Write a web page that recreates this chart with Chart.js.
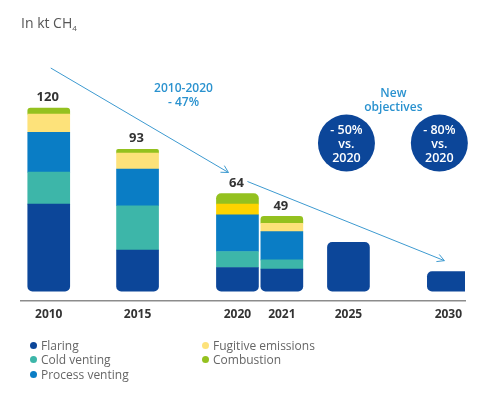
<!DOCTYPE html>
<html>
<head>
<meta charset="utf-8">
<script src="https://cdn.jsdelivr.net/npm/chart.js@4.4.1/dist/chart.umd.min.js"></script>
<style>
  html, body { margin: 0; padding: 0; background: #fff; }
  #wrap { position: relative; width: 490px; height: 396px; font-family: "Open Sans", sans-serif; }
  #title { position: absolute; left: 21px; top: 13px; font-size: 14px; color: #555; }
  #title sub { font-size: 8px; vertical-align: -3px; }
  #legend { position: absolute; left: 30px; top: 338px; display: grid; grid-template-columns: 172px 160px;
            grid-template-rows: repeat(3, 14.5px); grid-auto-flow: column; font-size: 12px; color: #666; }
  #legend span { display: flex; align-items: center; white-space: nowrap; }
  #legend i { display: inline-block; width: 7px; height: 7px; border-radius: 50%; margin-right: 4px; }
</style>
</head>
<body>
<div id="wrap">
  <canvas id="chart" width="490" height="396"></canvas>
  <div id="title">In kt CH<sub>4</sub></div>
  <div id="legend"></div>
</div>
<script>
// values in kt CH4
const years = ['2010', '2015', '2020', '2021', '2025', '2030'];
const flaring = [57, 27, 15.5, 14.5, 32, 12.8];
const coldVenting = [21, 29, 10.5, 6, null, null];
const processVenting = [26, 24, 24, 18.5, null, null];
const fugitive = [12, 10.5, 7, 5.5, null, null];
const combustion = [4, 2.5, 7, 4.5, null, null];
const shownTotals = ['120', '93', '64', '49', null, null];

// layout: the years are not evenly spaced, so put them on a finer category grid
const slotCount = 40;
const slotOf = [2, 10, 19, 23, 29, 38];

const labels = new Array(slotCount).fill('');
const colOfSlot = {};
slotOf.forEach((s, i) => { labels[s] = years[i]; colOfSlot[s] = i; });

function spread(values) {
  const out = new Array(slotCount).fill(null);
  slotOf.forEach((s, i) => { out[s] = values[i]; });
  return out;
}

const series = [
  { label: 'Flaring', values: flaring, color: '#0c4699' },
  { label: 'Cold venting', values: coldVenting, color: '#3db6a9' },
  { label: 'Process venting', values: processVenting, color: '#0a7dc5' },
  { label: 'Fugitive emissions', values: fugitive, color: '#fde27a' },
  { label: 'Combustion', values: combustion, color: '#94c11f' }
];

function topSeries(col) {
  let top = 0;
  series.forEach((s, i) => { if (s.values[col] != null) top = i; });
  return top;
}

const datasets = series.map((s, i) => ({
  label: s.label,
  data: spread(s.values),
  backgroundColor: s.label === 'Fugitive emissions'
    ? (ctx) => colOfSlot[ctx.dataIndex] === 2 ? '#fed300' : s.color
    : s.color,
  borderWidth: 0,
  borderSkipped: false,
  barThickness: 42,
  borderRadius: (ctx) => {
    const col = colOfSlot[ctx.dataIndex];
    if (col === undefined) return 0;
    const t = ctx.datasetIndex === topSeries(col) ? 5 : 0;
    const b = ctx.datasetIndex === 0 ? 5 : 0;
    return { topLeft: t, topRight: t, bottomLeft: b, bottomRight: b };
  }
}));

// legend, two columns
const legend = document.getElementById('legend');
series.forEach(s => {
  legend.innerHTML += `<span><i style="background:${s.color}"></i>${s.label}</span>`;
});

const blue = '#2a92cf';

const annotations = {
  id: 'annotations',
  afterDatasetsDraw(chart) {
    const { ctx, scales: { x, y }, chartArea } = chart;
    const px = (col) => x.getPixelForValue(slotOf[col]);
    const totals = years.map((_, c) => series.reduce((a, s) => a + (s.values[c] || 0), 0));
    ctx.save();

    // totals above bars
    ctx.fillStyle = '#333';
    ctx.font = 'bold 13px "Open Sans"';
    ctx.textAlign = 'center';
    ctx.textBaseline = 'middle';
    shownTotals.forEach((t, c) => {
      if (t) ctx.fillText(t, px(c) - 1, y.getPixelForValue(totals[c]) - 10.5);
    });

    // trend arrows
    function arrow(x1, y1, x2, y2) {
      ctx.beginPath();
      ctx.moveTo(x1, y1);
      ctx.lineTo(x2, y2);
      const a = Math.atan2(y2 - y1, x2 - x1);
      const h = 8;
      ctx.moveTo(x2 - h * Math.cos(a - 0.5), y2 - h * Math.sin(a - 0.5));
      ctx.lineTo(x2, y2);
      ctx.lineTo(x2 - h * Math.cos(a + 0.5), y2 - h * Math.sin(a + 0.5));
      ctx.stroke();
    }
    ctx.strokeStyle = '#3d9ad0';
    ctx.lineWidth = 1;
    arrow(px(0) + 2, y.getPixelForValue(totals[0]) - 40, px(2) - 9, y.getPixelForValue(totals[2]) - 21);
    arrow(px(2) + 10, y.getPixelForValue(totals[2]) - 12, px(5) - 4, y.getPixelForValue(totals[5]) - 11);

    // 2010-2020 note
    ctx.fillStyle = blue;
    ctx.font = '600 12px "Open Sans"';
    const mx = (px(1) + px(2)) / 2 - 4;
    ctx.fillText('2010-2020', mx, chartArea.top + 11.5);
    ctx.fillText('- 47%', mx, chartArea.top + 25.5);

    // new objectives
    const nx = (px(4) + px(5)) / 2 - 5;
    ctx.fillText('New', nx, chartArea.top + 16.5);
    ctx.fillText('objectives', nx, chartArea.top + 30.5);

    const goals = [['- 50%', 'vs.', '2020'], ['- 80%', 'vs.', '2020']];
    const shift = [-2, -9];
    [4, 5].forEach((c, k) => {
      const cx = px(c) + shift[k];
      const cy = chartArea.top + 65.5;
      ctx.fillStyle = '#0c4699';
      ctx.beginPath();
      ctx.arc(cx, cy, 28.5, 0, Math.PI * 2);
      ctx.fill();
      ctx.fillStyle = '#fff';
      ctx.font = '600 12.5px "Open Sans"';
      goals[k].forEach((line, j) => ctx.fillText(line, cx, cy - 12.5 + j * 14));
    });
    ctx.restore();
  }
};

new Chart(document.getElementById('chart'), {
  type: 'bar',
  data: { labels: labels, datasets: datasets },
  options: {
    responsive: false,
    animation: false,
    layout: { padding: { top: 77.5, left: 21, right: 25, bottom: 68.5 } },
    plugins: { legend: { display: false }, tooltip: { enabled: false } },
    scales: {
      x: {
        stacked: true,
        grid: { display: false, drawTicks: false },
        border: { color: '#8c8c8c', width: 1.5 },
        ticks: {
          autoSkip: false,
          maxRotation: 0,
          padding: 6,
          color: '#333',
          font: { family: 'Open Sans', size: 12, weight: 'bold' }
        }
      },
      y: {
        stacked: true,
        display: false,
        min: -6.5,
        max: 140
      }
    }
  },
  plugins: [annotations]
});
</script>
</body>
</html>
